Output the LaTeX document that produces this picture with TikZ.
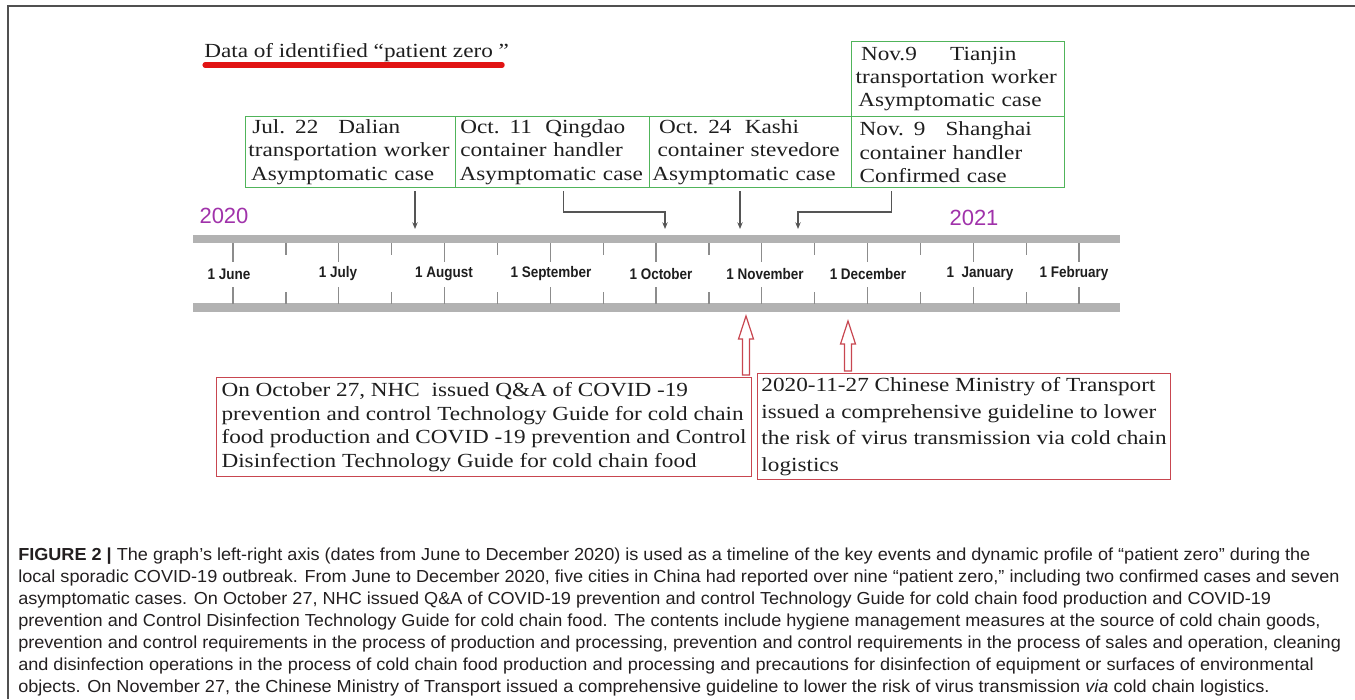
\documentclass[tikz,border=0pt]{standalone}
\usepackage{fontspec}
\setmainfont{Liberation Serif}
\newfontfamily\boxfont[FakeStretch=1.16]{Liberation Serif}
\newfontfamily\monthfont[FakeStretch=0.88]{Liberation Sans}
\newfontfamily\yearfont{Liberation Sans}
\newfontfamily\capfont[FakeStretch=1.04]{Liberation Sans}
\usepackage{tikz}
\usetikzlibrary{calc,arrows.meta}
\definecolor{casegreen}{RGB}{80,180,90}
\definecolor{guidered}{RGB}{200,70,80}
\definecolor{markred}{RGB}{225,20,20}
\definecolor{yearpurple}{RGB}{160,50,170}
\definecolor{bargray}{RGB}{178,178,178}
\definecolor{tickgray}{RGB}{140,140,140}
\definecolor{arrowgray}{RGB}{85,85,85}
\definecolor{framegray}{RGB}{80,80,80}
\definecolor{inktext}{RGB}{30,30,30}
\definecolor{captext}{RGB}{35,31,32}

\begin{document}
\begin{tikzpicture}[x=0.75pt,y=-0.75pt,>={Stealth[length=5pt,width=4pt]},
    casebox/.style={draw=casegreen,line width=1pt,anchor=north west,align=left,
      inner xsep=2pt,inner ysep=0pt,minimum height=53.25pt,text=inktext,
      font=\boxfont\fontsize{15}{17.5}\selectfont},
    guidebox/.style={draw=guidered,line width=0.9pt,anchor=north west,align=left,
      inner xsep=2pt,inner ysep=0pt,text=inktext},
    timebar/.style={fill=bargray,minimum height=6.5pt,inner sep=0pt},
    tick/.style={tickgray,line width=1.1pt},
    monthlabel/.style={text=inktext,inner sep=0pt,font=\monthfont\bfseries\fontsize{11.5}{12}\selectfont},
    yearlabel/.style={text=yearpurple,inner sep=0pt,font=\yearfont\fontsize{16.5}{18}\selectfont},
    evarrow/.style={->,arrowgray,line width=1.1pt},
    hollowarrow/.style={draw=guidered,line width=0.9pt,fill=white},
    underline/.style={markred,line width=3.8pt,line cap=round},
    capline/.style={anchor=base west,inner sep=0pt,text=captext,
      font=\capfont\fontsize{13.05}{15}\selectfont}]
          \useasboundingbox (0,0) rectangle (1355,699);
          \draw[framegray,line width=1.5pt] (1355,6) -- (8,6) -- (8,699);

          \node[anchor=base west,inner sep=0pt,text=inktext,font=\boxfont\fontsize{15}{17}\selectfont] (title) at (204,58) {Data of identified “patient zero ”};
          \draw[underline] ($(title.base west)+(1,7)$) -- ($(title.base east)+(-7,7)$);

          \node[casebox,minimum width=157.5pt,text width=153.5pt] (dalian) at (245,116) {\hspace{3pt}Jul. 22\quad Dalian\\transportation worker\\\hspace{2pt}Asymptomatic case};
          \node[casebox,minimum width=145.5pt,text width=141.5pt] (qingdao) at (455,116) {\hspace{1.5pt}Oct. 11~~Qingdao\\\hspace{1.5pt}container handler\\\hspace{1pt}Asymptomatic case};
          \node[casebox,minimum width=151.5pt,text width=147.5pt] (kashi) at (649,116) {\hspace{5pt}Oct. 24~~Kashi\\\hspace{4pt}container stevedore\\Asymptomatic case};
          \node[casebox,minimum width=159.75pt,text width=155.75pt] (shanghai) at (851,116) {\hspace{4pt}Nov. 9\quad Shanghai\\\hspace{4pt}container handler\\\hspace{4pt}Confirmed case};
          \node[casebox,minimum width=159.75pt,text width=155.75pt,minimum height=56.25pt] (tianjin) at (851,41) {\hspace{5pt}Nov.9\quad~ Tianjin\\\hspace{1pt}transportation worker\\\hspace{3pt}Asymptomatic case};

          \node[yearlabel] (y2020) at (224,216) {2020};
          \node[yearlabel] (y2021) at (974,218) {2021};

          \node[timebar,minimum width=695.25pt] (topbar) at (656.5,239) {};
          \node[timebar,minimum width=695.25pt] (botbar) at (656.5,307.5) {};
          \foreach \i in {0,...,8} {
            \draw[tick] (233+105.75*\i,243) -- ++(0,19);
            \draw[tick] (233+105.75*\i,304) -- ++(0,-17);
          }
          \foreach \i in {0,...,7} {
            \draw[tick] (286+105.75*\i,243) -- ++(0,12);
            \draw[tick] (286+105.75*\i,304) -- ++(0,-12);
          }
          \foreach \lab/\lx in {1 June/229,1 July/338,1 August/444,1 September/551,1 October/661,
              1 November/765,1 December/868,1\ \ January/980,1 February/1074}
            \node[monthlabel] (month-\lx) at (\lx,274) {\lab};

          \coordinate (t-dalian) at (415,229);
          \coordinate (t-qingdao) at (665,229);
          \coordinate (t-kashi) at (740,229);
          \coordinate (t-shanghai) at (798,229);
          \draw[evarrow] ([yshift=-2pt]dalian.south -| t-dalian) -- (t-dalian);
          \draw[evarrow] ([xshift=8.25pt,yshift=-2pt]qingdao.south) |- ([yshift=12.75pt]t-qingdao) -- (t-qingdao);
          \draw[evarrow] ([yshift=-2pt]kashi.south -| t-kashi) -- (t-kashi);
          \draw[evarrow] ([xshift=-49.9pt,yshift=-2pt]shanghai.south) |- ([yshift=12.75pt]t-shanghai) -- (t-shanghai);

          \node[guidebox,minimum width=401.25pt,minimum height=74.25pt,font=\boxfont\fontsize{15}{17.75}\selectfont] (nhc) at (216,377)
            {On October 27, NHC~ issued Q\&A of COVID -19\\prevention and control Technology Guide for cold chain\\food production and COVID -19 prevention and Control\\Disinfection Technology Guide for cold chain food};
          \node[guidebox,minimum width=309.75pt,minimum height=79.5pt,font=\boxfont\fontsize{15}{20}\selectfont] (mot) at (757,373)
            {2020-11-27 Chinese Ministry of Transport\\issued a comprehensive guideline to lower\\the risk of virus transmission via cold chain\\logistics};

          \coordinate (t-nhc) at (746,316);
          \coordinate (t-mot) at (848,321);
          \draw[hollowarrow] (t-nhc) -- ++(7.5,23) -- ++(-4,0) -- ($(t-nhc |- nhc.north)+(3.5,-2)$)
            -- ($(t-nhc |- nhc.north)+(-3.5,-2)$) -- ($(t-nhc)+(-3.5,23)$) -- ++(-4,0) -- cycle;
          \draw[hollowarrow] (t-mot) -- ++(7.5,23) -- ++(-4,0) -- ($(t-mot |- mot.north)+(3.5,-2)$)
            -- ($(t-mot |- mot.north)+(-3.5,-2)$) -- ($(t-mot)+(-3.5,23)$) -- ++(-4,0) -- cycle;

          \node[capline] (cap1) at (18,560) {\textbf{FIGURE 2 |} The graph’s left-right axis (dates from June to December 2020) is used as a timeline of the key events and dynamic profile of “patient zero” during the};
          \node[capline] (cap2) at (18,582) {local sporadic COVID-19 outbreak. From June to December 2020, five cities in China had reported over nine “patient zero,” including two confirmed cases and seven};
          \node[capline] (cap3) at (18,604) {asymptomatic cases. On October 27, NHC issued Q\&A of COVID-19 prevention and control Technology Guide for cold chain food production and COVID-19};
          \node[capline] (cap4) at (18,626) {prevention and Control Disinfection Technology Guide for cold chain food. The contents include hygiene management measures at the source of cold chain goods,};
          \node[capline] (cap5) at (18,648) {prevention and control requirements in the process of production and processing, prevention and control requirements in the process of sales and operation, cleaning};
          \node[capline] (cap6) at (18,670) {and disinfection operations in the process of cold chain food production and processing and precautions for disinfection of equipment or surfaces of environmental};
          \node[capline] (cap7) at (18,692) {objects. On November 27, the Chinese Ministry of Transport issued a comprehensive guideline to lower the risk of virus transmission \textit{via} cold chain logistics.};
        \end{tikzpicture}
\end{document}
